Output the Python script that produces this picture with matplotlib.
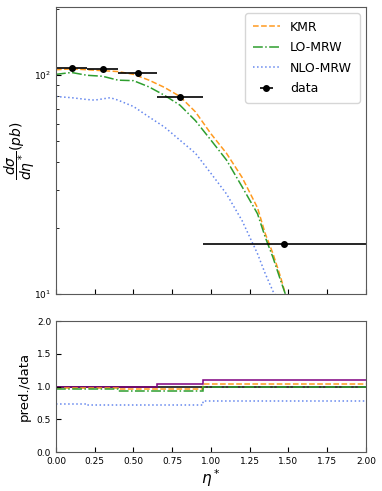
import numpy as np
import matplotlib
matplotlib.use("Agg")
import matplotlib.pyplot as plt

# data points (bins in eta*)
bin_edges = [0.0, 0.2, 0.4, 0.65, 0.95, 2.0]
data_x = [0.1, 0.3, 0.53, 0.8, 1.47]
data_y = [107.5, 107.0, 102.8, 79.3, 17.0]

# theory curves
kmr_eta = [0, 0.1, 0.2, 0.3, 0.4, 0.5, 0.6, 0.7, 0.8, 0.9, 1.0, 1.1, 1.2, 1.3, 1.35, 1.4, 1.45, 1.48]
kmr_val = [106, 107, 106, 105, 104, 101, 95, 88, 80, 68, 54, 44, 34.2, 24.8, 18.9, 15.3, 11.9, 10]
lo_eta = kmr_eta
lo_val = [101, 103, 100, 99, 95, 94.5, 88.5, 81, 73, 62, 50.5, 41, 31, 23.3, 18.2, 14.7, 11.5, 10]
nlo_eta = [0, 0.1, 0.2, 0.25, 0.3, 0.35, 0.4, 0.5, 0.6, 0.7, 0.8, 0.9, 1.0, 1.1, 1.2, 1.3, 1.35, 1.4, 1.42]
nlo_val = [80, 79, 77.5, 77, 78, 79, 77, 72, 64.5, 58, 50.5, 44, 35.6, 28.7, 21.7, 15.3, 12.4, 10.3, 9.8]

# ratios per bin
ratio_data = [1.0, 1.0, 1.0, 1.0, 1.0]
ratio_tot = [0.985, 0.985, 0.985, 1.04, 1.10]
ratio_kmr = [0.97, 0.97, 0.96, 0.96, 1.04]
ratio_lo = [0.955, 0.955, 0.935, 0.935, 0.99]
ratio_nlo = [0.735, 0.725, 0.715, 0.715, 0.78]

c_kmr = '#ff9a1f'
c_lo = '#2e9e2e'
c_nlo = '#6688ee'

fig = plt.figure(figsize=(3.82, 4.91), dpi=100)
ax1 = fig.add_axes([0.1466, 0.401, 0.8115, 0.5846])
ax2 = fig.add_axes([0.1466, 0.0794, 0.8115, 0.2668])

ax1.plot(kmr_eta, kmr_val, '--', color=c_kmr, lw=1.1, label='KMR')
ax1.plot(lo_eta, lo_val, '-.', color=c_lo, lw=1.1, label='LO-MRW')
ax1.plot(nlo_eta, nlo_val, ':', color=c_nlo, lw=1.1, label='NLO-MRW')
xl = np.array(data_x) - np.array(bin_edges[:-1])
xr = np.array(bin_edges[1:]) - np.array(data_x)
ax1.errorbar(data_x, data_y, xerr=[xl, xr], fmt='o', color='black', ms=4, lw=1.2, label='data')
ax1.set_yscale('log')
ax1.set_xlim(0, 2)
ax1.set_ylim(10, 205)
ax1.set_xticks(np.arange(0, 2.01, 0.25))
ax1.set_xticklabels([])
ax1.tick_params(direction='in', which='both', labelsize=6.5)
ax1.set_ylabel(r'$\dfrac{d\sigma}{d\eta^*}(pb)$', fontsize=10)
ax1.yaxis.set_label_coords(-0.062, 0.5)
leg = ax1.legend(loc='upper right', fontsize=9, handlelength=2.2, borderpad=0.6, labelspacing=0.6)

for vals, ls, col in [(ratio_data, '-', 'black'), (ratio_tot, '-', 'purple'),
                      (ratio_kmr, '--', c_kmr), (ratio_lo, '-.', c_lo), (ratio_nlo, ':', c_nlo)]:
    ax2.stairs(vals, bin_edges, color=col, linestyle=ls, lw=1.1, baseline=None)
ax2.set_xlim(0, 2)
ax2.set_ylim(0, 2)
ax2.set_xticks(np.arange(0, 2.01, 0.25))
ax2.set_yticks([0, 0.5, 1.0, 1.5, 2.0])
ax2.tick_params(direction='in', labelsize=6.5)
ax2.set_ylabel('pred./data', fontsize=9.5)
ax2.set_xlabel(r'$\eta^*$', fontsize=11, labelpad=1)

for ax in (ax1, ax2):
    for s in ax.spines.values():
        s.set_color('0.35')

fig.savefig('out.png', dpi=100)
